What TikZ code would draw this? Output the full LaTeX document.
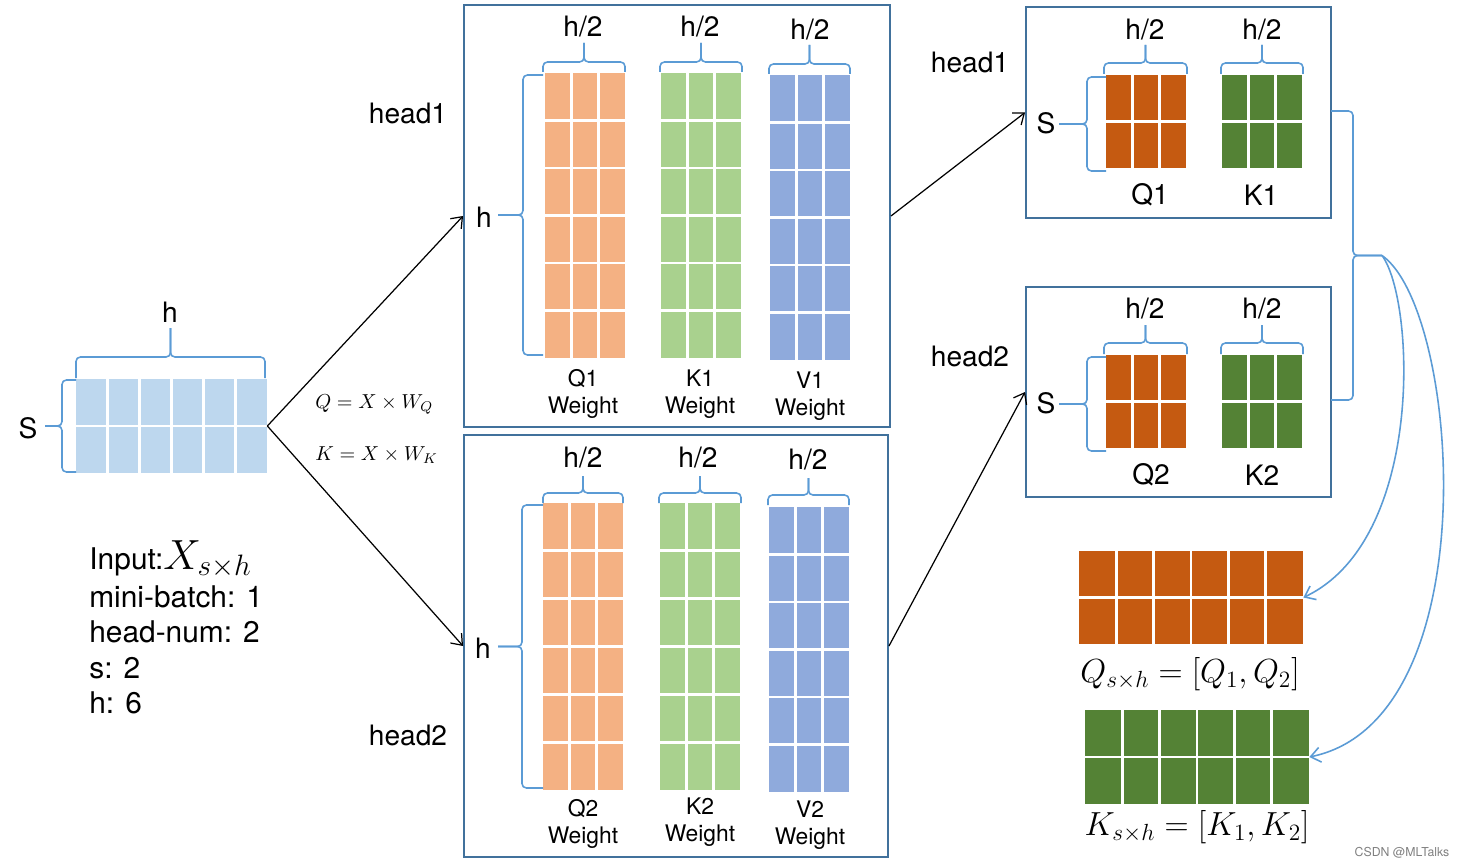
\RequirePackage{fix-cm}
\documentclass[tikz,border=0pt]{standalone}
\usepackage{fontspec}
\setmainfont{TeX Gyre Heros}
\usetikzlibrary{fit,arrows.meta}

\definecolor{xcell}{HTML}{BDD7EE}
\definecolor{qw}{HTML}{F4B183}
\definecolor{kw}{HTML}{A9D18E}
\definecolor{vw}{HTML}{8FAADC}
\definecolor{qd}{HTML}{C55A11}
\definecolor{kd}{HTML}{548235}
\definecolor{bracecol}{HTML}{5B9BD5}
\definecolor{boxcol}{HTML}{41719C}

\tikzset{
  cellgap/.style={white, line width=1.6pt},
  brc/.style={draw=bracecol, line width=0.9pt, rounded corners=2.5pt},
  hbox/.style={draw=boxcol, line width=1.1pt, inner sep=0pt},
  area/.style={inner sep=0pt},
  lbl/.style={font=\fontsize{16}{19}\selectfont, inner sep=0pt},
  wlbl/.style={font=\fontsize{13}{15.4}\selectfont, align=center, inner sep=0pt},
  info/.style={font=\fontsize{17}{20}\selectfont, anchor=base west, inner sep=0pt},
  link/.style={black, line width=0.7pt, ->},
  blink/.style={bracecol, line width=0.9pt, ->},
}

\begin{document}
\begin{tikzpicture}[x=0.02cm, y=-0.02cm, >={Straight Barb[length=5.5pt,width=8.5pt]}]
\useasboundingbox (0,0) rectangle (1466,868);

%matrices
\foreach \xa/\ya/\xb/\yb/\nc/\nr/\col in {
  76/379/267/473/6/2/xcell,
  545/73/625/358/3/6/qw, 661/73/741/358/3/6/kw, 770/75/850/360/3/6/vw,
  543/503/623/790/3/6/qw, 660/503/740/790/3/6/kw, 769/507/849/792/3/6/vw,
  1106/75/1186/168/3/2/qd, 1222/75/1302/168/3/2/kd,
  1106/355/1186/448/3/2/qd, 1222/355/1302/448/3/2/kd,
  1079/551/1303/644/6/2/qd, 1085/710/1309/804/6/2/kd}{
  \fill[\col] (\xa,\ya) rectangle (\xb,\yb);
  \pgfmathtruncatemacro\ncm{\nc-1}
  \pgfmathtruncatemacro\nrm{\nr-1}
  \foreach \i in {1,...,\ncm}
    \draw[cellgap] ({\xa+\i*(\xb-\xa)/\nc},\ya) -- ({\xa+\i*(\xb-\xa)/\nc},\yb);
  \foreach \j in {1,...,\nrm}
    \draw[cellgap] (\xa,{\ya+\j*(\yb-\ya)/\nr}) -- (\xb,{\ya+\j*(\yb-\ya)/\nr});
}
\node[area, fit={(76,379) (267,473)}] (xin) {};
\node[area, fit={(1079,551) (1303,644)}] (qall) {};
\node[area, fit={(1085,710) (1309,804)}] (kall) {};

%boxes
\node[hbox, fit={(464,5) (890,427)}] (hd1) {};
\node[hbox, fit={(464,435) (888,857)}] (hd2) {};
\node[hbox, fit={(1026,7) (1331,218)}] (rh1) {};
\node[hbox, fit={(1026,287) (1331,497)}] (rh2) {};

%braces
\foreach \xa/\xb/\ye/\yb/\yt in {
  76/265/378/357/328,
  543/625/72/62/43, 660/742/72/62/43, 769/850/74/64/45,
  543/623/503/493/476, 659/741/503/493/476, 768/849/505/495/478,
  1104/1187/74/63/45, 1221/1303/74/63/45,
  1104/1187/354/343/325, 1221/1303/354/343/325}{
  \draw[brc] (\xa,\ye) -- (\xa,\yb) -- ({(\xa+\xb)/2},\yb) -- ({(\xa+\xb)/2},\yt);
  \draw[brc] (\xb,\ye) -- (\xb,\yb) -- ({(\xa+\xb)/2},\yb) -- ({(\xa+\xb)/2},\yt);
}
\foreach \xe/\xb/\ya/\yb/\xt in {
  76/62/380/472/45, 543/523/75/355/498, 543/522/505/788/498,
  1106/1087/77/171/1059, 1106/1087/357/451/1059, 1331/1353/111/400/1382}{
  \draw[brc] (\xe,\ya) -- (\xb,\ya) -- (\xb,{(\ya+\yb)/2}) -- (\xt,{(\ya+\yb)/2});
  \draw[brc] (\xe,\yb) -- (\xb,\yb) -- (\xb,{(\ya+\yb)/2}) -- (\xt,{(\ya+\yb)/2});
}
\coordinate (tip) at (1382,255.5);

%labels
\node[lbl] (lh) at (170,312) {h};
\node[lbl] (ls) at (28,428) {S};
\node[lbl] (th1) at (408,113) {head1};
\node[lbl] (th2) at (408,735) {head2};
\node[lbl] (hh1) at (484,217) {h};
\node[lbl] (hh2) at (483,648) {h};
\foreach \x/\y [count=\k] in {583/27, 700/27, 810/30, 583/458, 698/458, 808/460, 1145/30, 1262/30, 1145/309, 1262/309}
  \node[lbl] (half\k) at (\x,\y) {h/2};
\node[wlbl] (wq1) at (583,394) {Q1\\Weight};
\node[wlbl] (wk1) at (700,394) {K1\\Weight};
\node[wlbl] (wv1) at (810,396) {V1\\Weight};
\node[wlbl] (wq2) at (583,824) {Q2\\Weight};
\node[wlbl] (wk2) at (700,822) {K2\\Weight};
\node[wlbl] (wv2) at (810,825) {V2\\Weight};
\node[lbl] (rt1) at (970,62) {head1};
\node[lbl] (rt2) at (970,356) {head2};
\node[lbl] (rs1) at (1046,123) {S};
\node[lbl] (rs2) at (1046,403) {S};
\node[lbl] (rq1) at (1150,195) {Q1};
\node[lbl] (rk1) at (1261,195) {K1};
\node[lbl] (rq2) at (1151,475) {Q2};
\node[lbl] (rk2) at (1262,475) {K2};

%formulas
\node[anchor=base west, inner sep=0pt, font=\fontsize{11.5}{13}\selectfont] (fq) at (315,408) {$Q = X \times W_Q$};
\node[anchor=base west, inner sep=0pt, font=\fontsize{11.5}{13}\selectfont] (fk) at (315,460) {$K = X \times W_K$};
\node[anchor=base, inner sep=0pt, font=\fontsize{19}{22}\selectfont] (fqall) at (1190,682) {$Q_{s\times h} = [Q_1, Q_2]$};
\node[anchor=base, inner sep=0pt, font=\fontsize{19}{22}\selectfont] (fkall) at (1197,835) {$K_{s\times h} = [K_1, K_2]$};

%settings
\node[info] (in1) at (89,569) {Input:{\fontsize{24}{26}\selectfont$X_{s\times h}$}};
\node[info] (in2) at (89,607) {mini-batch: 1};
\node[info] (in3) at (89,642) {head-num: 2};
\node[info] (in4) at (89,678) {s: 2};
\node[info] (in5) at (89,713) {h: 6};

%arrows
\draw[link] (xin.east) -- (hd1.west);
\draw[link] (xin.east) -- (hd2.west);
\draw[link] (hd1.east) -- (rh1.west);
\draw[link] (hd2.east) -- (rh2.west);
\draw[blink] (tip) .. controls (1415,300) and (1425,540) .. (qall.east);
\draw[blink] (tip) .. controls (1460,310) and (1490,720) .. (kall.east);

\node[font=\fontsize{7}{8}\selectfont, text=gray, inner sep=0pt] (mark) at (1402,853) {CSDN @MLTalks};
\end{tikzpicture}
\end{document}
